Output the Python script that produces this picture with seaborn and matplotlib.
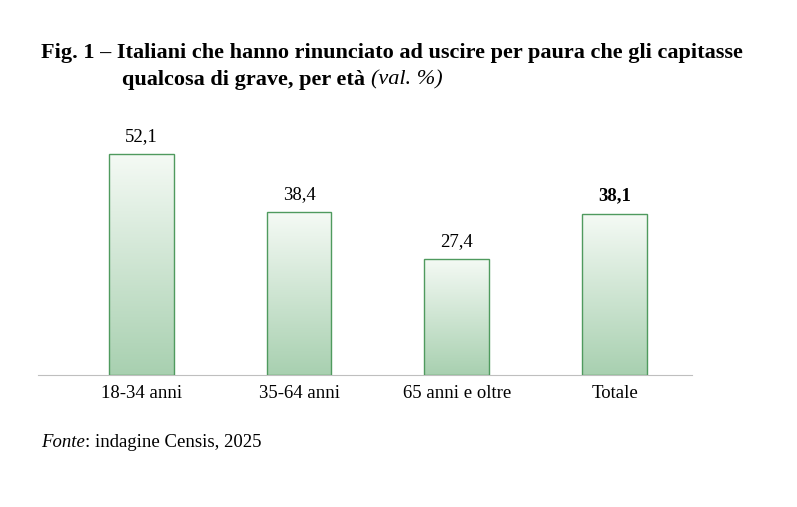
import matplotlib
matplotlib.use("Agg")
import matplotlib.pyplot as plt
import seaborn as sns
import numpy as np
import pandas as pd
from matplotlib.colors import LinearSegmentedColormap

categories = ["18-34 anni", "35-64 anni", "65 anni e oltre", "Totale"]
values = [52.1, 38.4, 27.4, 38.1]
labels = ["52,1", "38,4", "27,4", "38,1"]

sns.set_style("white")
plt.rcParams['font.family'] = ['Liberation Serif', 'DejaVu Serif']
plt.rcParams['text.color'] = 'black'
plt.rcParams['xtick.color'] = 'black'

fig = plt.figure(figsize=(7.97, 5.07), dpi=100)
ax = fig.add_axes([0.048, 0.26, 0.82, 0.502])
df = pd.DataFrame({"cat": categories, "val": values})
sns.barplot(data=df, x="cat", y="val", ax=ax, width=0.41, color="white",
            edgecolor="#4f9a5e", linewidth=1.0)
ax.set_xlim(-0.654, 3.49)
ax.set_ylim(0, 60)

cmap = LinearSegmentedColormap.from_list("g", ["#a8d0b0", "#f5faf5"])
grad = np.linspace(0, 1, 256).reshape(-1, 1)
for p in ax.patches:
    x0, w, h = p.get_x(), p.get_width(), p.get_height()
    im = ax.imshow(grad, cmap=cmap, aspect="auto", origin="lower",
                   extent=[x0, x0 + w, 0, h], zorder=p.get_zorder() - 0.1)
    im.set_clip_path(p)
    p.set_facecolor("none")
    p.set_zorder(3)

for i, (v, l) in enumerate(zip(values, labels)):
    ax.text(i, v + 2.2, l, ha="center", va="bottom", fontsize=13.5,
            fontweight="bold" if categories[i] == "Totale" else "normal")

for s in ["top", "right", "left"]:
    ax.spines[s].set_visible(False)
ax.spines["bottom"].set_color("#bfbfbf")
ax.set_yticks([])
ax.set_xlabel("")
ax.set_ylabel("")
ax.tick_params(axis="x", length=0, labelsize=13.5, pad=7)

fig.text(0.052, 0.895, "Fig. 1 – Italiani che hanno rinunciato ad uscire per paura che gli capitasse",
         fontsize=16, fontweight="bold", ha="left", va="center")
t = fig.text(0.153, 0.842, "qualcosa di grave, per età ", fontsize=16, fontweight="bold",
             ha="left", va="center")
fig.canvas.draw()
bb = t.get_window_extent()
fig.text(bb.x1 / fig.bbox.width, 0.842, "(val. %)", fontsize=16, style="italic",
         ha="left", va="center")

f = fig.text(0.052, 0.128, "Fonte", fontsize=13.5, style="italic", ha="left", va="center")
fig.canvas.draw()
bb = f.get_window_extent()
fig.text(bb.x1 / fig.bbox.width, 0.128, ": indagine Censis, 2025", fontsize=13.5,
         ha="left", va="center")

fig.savefig("out.png", dpi=100)
